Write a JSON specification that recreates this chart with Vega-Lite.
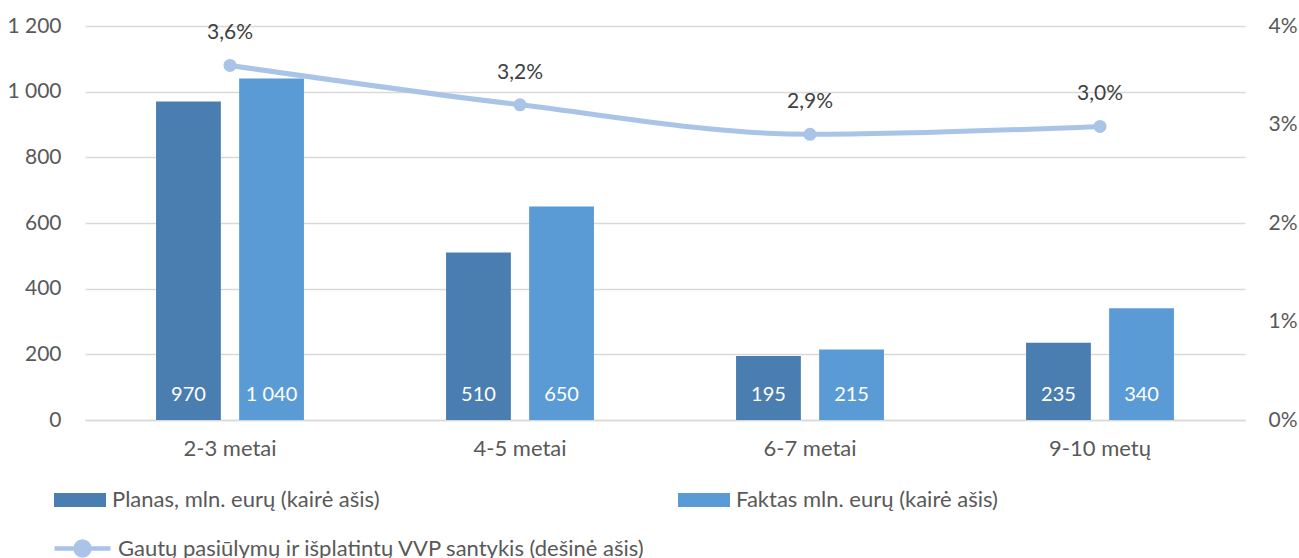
{
  "$schema": "https://vega.github.io/schema/vega-lite/v6.json",
  "autosize": {"type": "none"},
  "width": 1160,
  "height": 394,
  "padding": {"left": 85, "top": 26, "right": 54, "bottom": 138},
  "background": "white",
  "config": {
    "font": "Lato",
    "locale": {"number": {"decimal": ",", "thousands": " ", "grouping": [3], "currency": ["", " €"], "percent": "%"}},
    "view": {"stroke": null}
  },
  "datasets": {
    "bars": [
      {"cat": "2-3 metai", "series": "Planas, mln. eurų (kairė ašis)", "value": 970},
      {"cat": "2-3 metai", "series": "Faktas mln. eurų (kairė ašis)", "value": 1040},
      {"cat": "4-5 metai", "series": "Planas, mln. eurų (kairė ašis)", "value": 510},
      {"cat": "4-5 metai", "series": "Faktas mln. eurų (kairė ašis)", "value": 650},
      {"cat": "6-7 metai", "series": "Planas, mln. eurų (kairė ašis)", "value": 195},
      {"cat": "6-7 metai", "series": "Faktas mln. eurų (kairė ašis)", "value": 215},
      {"cat": "9-10 metų", "series": "Planas, mln. eurų (kairė ašis)", "value": 235},
      {"cat": "9-10 metų", "series": "Faktas mln. eurų (kairė ašis)", "value": 340}
    ],
    "line": [
      {"cat": "2-3 metai", "s": "Gautų pasiūlymų ir išplatintų VVP santykis (dešinė ašis)", "ratio": 0.036},
      {"cat": "4-5 metai", "s": "Gautų pasiūlymų ir išplatintų VVP santykis (dešinė ašis)", "ratio": 0.032},
      {"cat": "6-7 metai", "s": "Gautų pasiūlymų ir išplatintų VVP santykis (dešinė ašis)", "ratio": 0.029},
      {"cat": "9-10 metų", "s": "Gautų pasiūlymų ir išplatintų VVP santykis (dešinė ašis)", "ratio": 0.0298}
    ]
  },
  "encoding": {
    "x": {
      "field": "cat", "type": "nominal", "sort": null,
      "scale": {"paddingInner": 0.49, "paddingOuter": 0.245},
      "axis": {"title": null, "labelAngle": 0, "labelPadding": 18, "labelFontSize": 22, "labelFont": "Lato", "labelColor": "#595959", "grid": false, "ticks": false, "domain": true, "domainColor": "#d9d9d9", "domainWidth": 1.5}
    }
  },
  "layer": [
    {
      "layer": [
        {
          "data": {"name": "bars"},
          "mark": {"type": "bar"},
          "encoding": {
            "xOffset": {"field": "series", "type": "nominal", "sort": ["Planas, mln. eurų (kairė ašis)", "Faktas mln. eurų (kairė ašis)"], "scale": {"paddingInner": 0.22, "paddingOuter": 0}},
            "y": {
              "field": "value", "type": "quantitative",
              "scale": {"domain": [0, 1200]},
              "axis": {"title": null, "values": [0, 200, 400, 600, 800, 1000, 1200], "format": ",d", "grid": true, "gridColor": "#d9d9d9", "gridWidth": 1.5, "labelPadding": 24, "orient": "left", "domain": false, "ticks": false, "labelFontSize": 21, "labelFont": "Lato", "labelColor": "#595959"}
            },
            "color": {
              "field": "series", "type": "nominal",
              "sort": ["Planas, mln. eurų (kairė ašis)", "Faktas mln. eurų (kairė ašis)"],
              "scale": {"range": ["#4A7EB0", "#5B9BD5"]},
              "legend": {
                "title": null, "orient": "none", "legendX": -31, "legendY": 448, "direction": "horizontal", "columns": 2,
                "symbolType": "M-1,-0.27H1V0.27H-1Z", "symbolSize": 2704, "symbolStrokeWidth": 0,
                "labelFontSize": 22, "labelColor": "#595959", "labelFont": "Lato", "labelOffset": 6, "labelLimit": 600,
                "columnPadding": 298, "padding": 0
              }
            }
          }
        },
        {
          "data": {"name": "bars"},
          "mark": {"type": "text", "color": "white", "fontSize": 20, "baseline": "alphabetic", "dy": -19, "font": "Lato"},
          "encoding": {
            "xOffset": {"field": "series", "type": "nominal", "sort": ["Planas, mln. eurų (kairė ašis)", "Faktas mln. eurų (kairė ašis)"], "scale": {"paddingInner": 0.22, "paddingOuter": 0}},
            "y": {"datum": 0, "type": "quantitative"},
            "text": {"field": "value", "type": "quantitative", "format": ",d"}
          }
        }
      ]
    },
    {
      "data": {"name": "line"},
      "encoding": {
        "y": {
          "field": "ratio", "type": "quantitative",
          "scale": {"domain": [0, 0.04]},
          "axis": {"title": null, "orient": "right", "values": [0, 0.01, 0.02, 0.03, 0.04], "format": ".0%", "grid": false, "domain": false, "ticks": false, "labelPadding": 23, "labelFontSize": 21, "labelFont": "Lato", "labelColor": "#595959"}
        }
      },
      "layer": [
        {
          "mark": {"type": "line", "interpolate": "monotone", "strokeWidth": 5},
          "encoding": {
            "stroke": {
              "field": "s", "type": "nominal",
              "scale": {"range": ["#A9C4E6"]},
              "legend": {
                "title": null, "orient": "none", "legendX": -33, "legendY": 492,
                "symbolType": "M-1,0H1M0.25,0A0.25,0.25 0 1,1 -0.25,0A0.25,0.25 0 1,1 0.25,0Z",
                "symbolSize": 3136, "symbolStrokeWidth": 4.5, "symbolFillColor": "#A9C4E6",
                "labelFontSize": 22, "labelColor": "#595959", "labelFont": "Lato", "labelOffset": 5, "labelLimit": 800, "padding": 0
              }
            }
          }
        },
        {
          "mark": {"type": "point", "filled": true, "size": 170, "color": "#A9C4E6", "opacity": 1}
        },
        {
          "mark": {"type": "text", "fontSize": 21, "color": "#404040", "dy": -32, "font": "Lato"},
          "encoding": {
            "text": {"field": "ratio", "type": "quantitative", "format": ".1%"}
          }
        }
      ]
    }
  ],
  "resolve": {"scale": {"y": "independent"}}
}
